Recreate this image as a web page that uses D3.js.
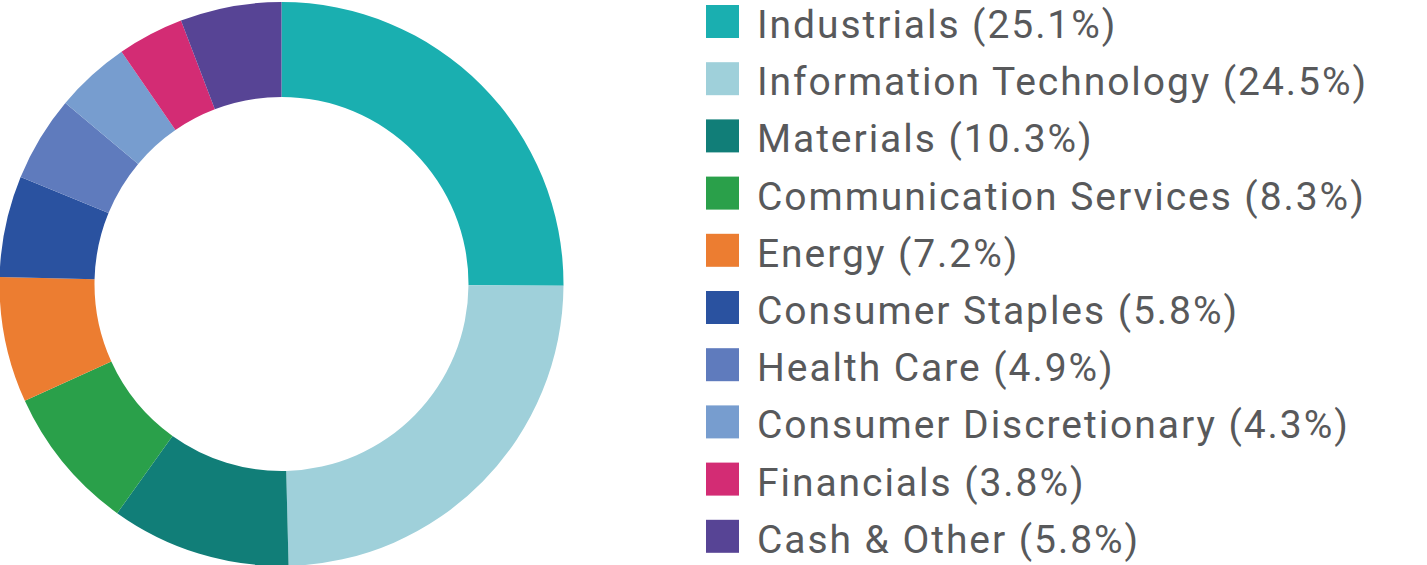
<!DOCTYPE html>
<html><head><meta charset="utf-8">
<script src="https://cdn.jsdelivr.net/npm/d3@7"></script>
<style>html,body{margin:0;padding:0;background:#fff;overflow:hidden}</style>
</head><body>
<svg id="chart" width="1427" height="565"></svg>
<script>
const categories = ["Industrials","Information Technology","Materials","Communication Services","Energy","Consumer Staples","Health Care","Consumer Discretionary","Financials","Cash & Other"];
const values = [25.1,24.5,10.3,8.3,7.2,5.8,4.9,4.3,3.8,5.8];
const colors = ["#1aafb0","#9fd0da","#117e78","#2aa04a","#ec7d31","#2a52a0","#5f7bbd","#779dcf","#d32c74","#574495"];
const data = categories.map((c,i)=>({name:c,value:values[i]}));

const svg = d3.select("#chart");
const cx = 281.5, cy = 284, rOuter = 282, rInner = 187;
const pie = d3.pie().value(d=>d.value).sort(null);
const arc = d3.arc().innerRadius(rInner).outerRadius(rOuter);
const color = d3.scaleOrdinal().domain(categories).range(colors);

svg.append("g").attr("transform",`translate(${cx},${cy})`)
  .selectAll("path").data(pie(data)).join("path")
  .attr("d",arc).attr("fill",d=>color(d.data.name));

const y = d3.scaleBand().domain(categories).range([0,572]).paddingInner(0);
const lg = svg.append("g");
const rows = lg.selectAll("g").data(data).join("g")
  .attr("transform",d=>`translate(706,${5+y(d.name)})`);
rows.append("rect").attr("width",33).attr("height",33).attr("fill",d=>color(d.name));
const texts = rows.append("text").attr("x",51).attr("y",33)
  .attr("fill","#58595b").attr("font-family","Roboto, sans-serif").attr("font-size",39)
  .text(d=>`${d.name} (${d.value.toFixed(1)}%)`);
// fit width of longest label to reference
const target = 611;
const node = texts.filter(d=>d.name==="Information Technology").node();
const w = node.getComputedTextLength();
const n = node.textContent.length;
texts.attr("letter-spacing",(target-w)/n);
</script>
</body></html>
